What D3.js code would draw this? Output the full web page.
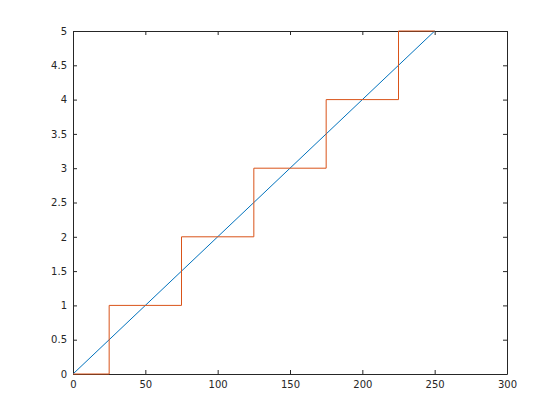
<!DOCTYPE html>
<html><head><meta charset="utf-8">
<script src="https://cdn.jsdelivr.net/npm/d3@7"></script>
<style>body{margin:0;background:#fff}svg{display:block}</style>
</head><body>
<script>
const xTicks=[0,50,100,150,200,250,300];
const yTicks=[0,0.5,1,1.5,2,2.5,3,3.5,4,4.5,5];
const lineX=[0,250];
const lineY=[0,5];
const stepX=[0,25,25,75,75,125,125,175,175,225,225,250];
const stepY=[0,0,1,1,2,2,3,3,4,4,5,5];

const W=560,H=420,L=73,R=507,T=31,B=374;
const svg=d3.select("body").append("svg").attr("width",W).attr("height",H);
const x=d3.scaleLinear().domain([0,300]).range([L,R]);
const y=d3.scaleLinear().domain([0,5]).range([B,T]);
const ax="#262626";
const font="'DejaVu Sans', Helvetica, Arial, sans-serif";

function style(g){
  g.select(".domain").attr("stroke",ax);
  g.selectAll(".tick line").attr("stroke",ax);
  g.selectAll("text").attr("fill",ax).style("font-family",font).style("font-size","10px");
}
svg.append("g").attr("transform",`translate(0,${B})`)
  .call(d3.axisBottom(x).tickValues(xTicks).tickSizeInner(-4).tickSizeOuter(0).tickPadding(7).tickFormat(d3.format("d")))
  .call(style);
svg.append("g").attr("transform",`translate(0,${T})`)
  .call(d3.axisTop(x).tickValues(xTicks).tickSizeInner(-4).tickSizeOuter(0).tickFormat(""))
  .call(style);
svg.append("g").attr("transform",`translate(${L},0)`)
  .call(d3.axisLeft(y).tickValues(yTicks).tickSizeInner(-4).tickSizeOuter(0).tickPadding(6).tickFormat(d=>String(d)))
  .call(style);
svg.append("g").attr("transform",`translate(${R},0)`)
  .call(d3.axisRight(y).tickValues(yTicks).tickSizeInner(-4).tickSizeOuter(0).tickFormat(""))
  .call(style);

const line=d3.line().x(d=>x(d[0])).y(d=>y(d[1]));
svg.append("path").datum(lineX.map((v,i)=>[v,lineY[i]])).attr("d",line)
  .attr("fill","none").attr("stroke","#0072BD").attr("stroke-width",1);
svg.append("path").datum(stepX.map((v,i)=>[v,stepY[i]])).attr("d",line)
  .attr("fill","none").attr("stroke","#D95319").attr("stroke-width",1);
</script>
</body></html>
